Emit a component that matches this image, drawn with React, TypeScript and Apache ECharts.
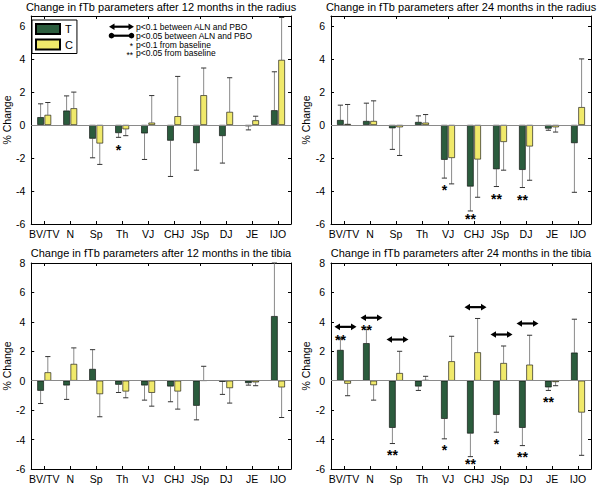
import React, { useEffect, useRef } from 'react';
import * as echarts from 'echarts';

const categories = ['BV/TV', 'N', 'Sp', 'Th', 'VJ', 'CHJ', 'JSp', 'DJ', 'JE', 'IJO'];
const yTicks = [-6, -4, -2, 0, 2, 4, 6, 8];

// 12 months radius
const r12T = [0.47, 0.87, -0.83, -0.49, -0.51, -0.95, -1.1, -0.67, -0.08, 0.89];
const r12TErr = [1.28, 1.76, -1.99, -0.75, -2.09, -3.12, -2.74, -2.31, -0.3, 3.22];
const r12C = [0.61, 1.01, -1.12, -0.26, 0.14, 0.53, 1.8, 0.79, 0.28, 3.94];
const r12CErr = [1.36, 1.99, -2.39, -0.65, 1.78, 2.94, 3.45, 2.86, 0.53, 6.51];

// 24 months radius
const r24T = [0.3, 0.24, -0.2, 0.18, -2.11, -3.73, -2.68, -2.72, -0.22, -1.1];
const r24TErr = [1.2, 1.32, -1.48, 0.55, -3.22, -5.21, -3.73, -3.79, -0.32, -4.08];
const r24C = [0.06, 0.24, -0.14, 0.14, -2.0, -2.09, -1.03, -1.3, -0.14, 1.08];
const r24CErr = [1.24, 1.46, -1.85, 0.63, -3.57, -4.38, -2.74, -3.35, -0.43, 4.0];

// 12 months tibia
const t12T = [-0.68, -0.32, 0.8, -0.27, -0.32, -0.39, -1.7, -0.07, -0.16, 4.39];
const t12TErr = [-1.55, -1.27, 2.11, -0.8, -1.32, -1.43, -2.66, -0.93, -0.3, 8.0];
const t12C = [0.57, 1.14, -0.91, -0.73, -0.82, -0.73, 0.02, -0.5, -0.11, -0.45];
const t12CErr = [1.64, 2.23, -2.45, -1.16, -1.73, -1.93, 0.98, -1.52, -0.34, -2.5];

// 24 months tibia
const t24T = [2.09, 2.55, -3.2, -0.39, -2.59, -3.59, -2.32, -3.2, -0.45, 1.91];
const t24TErr = [2.86, 3.5, -4.27, -0.66, -3.95, -5.16, -3.5, -4.41, -0.66, 4.18];
const t24C = [-0.2, -0.3, 0.52, 0.05, 1.32, 1.93, 1.2, 1.09, -0.09, -2.16];
const t24CErr = [-1.02, -1.32, 2.0, 0.3, 3.02, 4.23, 2.36, 3.09, -0.34, -5.07];

// significance stars: [category index, y value, number of stars]
const r12Stars = [[3, -1.28, 1]];
const r24Stars = [[4, -3.73, 1], [5, -5.5, 2], [6, -4.28, 2], [7, -4.34, 2]];
const t12Stars: number[][] = [];
const t24Stars = [[0, 2.98, 2], [1, 3.66, 2], [2, -4.8, 2], [4, -4.45, 1], [5, -5.45, 2], [6, -4.08, 1], [7, -4.93, 2], [8, -1.23, 2]];

// double arrows (p<0.1 between ALN and PBO): [category index, y value]
const t24Arrows = [[0, 3.66], [1, 4.28], [2, 2.8], [5, 5.0], [6, 3.14], [7, 3.89]];

const panelTitles = [
  'Change in fTb parameters after 12 months in the radius',
  'Change in fTb parameters after 24 months in the radius',
  'Change in fTb parameters after 12 months in the tibia',
  'Change in fTb parameters after 24 months in the tibia',
];
const legendNotes = ['p<0.1 between ALN and PBO', 'p<0.05 between ALN and PBO', 'p<0.1 from baseline', 'p<0.05 from baseline'];

const GREEN = '#2b5c3d';
const YELLOW = '#f0e96b';
const FONT = '"Liberation Sans", Arial, Helvetica, sans-serif';
const BAR_W = 6.6;
const OFF = 3.6;

const panels = [
  { T: r12T, TE: r12TErr, C: r12C, CE: r12CErr, stars: r12Stars, arrows: [] as number[][], ymax: 6.6 },
  { T: r24T, TE: r24TErr, C: r24C, CE: r24CErr, stars: r24Stars, arrows: [] as number[][], ymax: 6.6 },
  { T: t12T, TE: t12TErr, C: t12C, CE: t12CErr, stars: t12Stars, arrows: [] as number[][], ymax: 8 },
  { T: t24T, TE: t24TErr, C: t24C, CE: t24CErr, stars: t24Stars, arrows: t24Arrows, ymax: 8 },
];
const grids = [
  { left: 31, top: 16, width: 260, height: 208 },
  { left: 331, top: 16, width: 260, height: 208 },
  { left: 31, top: 263, width: 260, height: 206 },
  { left: 331, top: 263, width: 260, height: 206 },
];

function arrowShape(cx: number, y: number, half: number, dots: boolean) {
  const children: any[] = [];
  if (dots) {
    children.push({ type: 'line', shape: { x1: cx - half + 2, y1: y, x2: cx + half - 2, y2: y }, style: { stroke: '#000', lineWidth: 2.2 } });
    children.push({ type: 'circle', shape: { cx: cx - half + 2.5, cy: y, r: 2.8 }, style: { fill: '#000' } });
    children.push({ type: 'circle', shape: { cx: cx + half - 2.5, cy: y, r: 2.8 }, style: { fill: '#000' } });
  } else {
    children.push({ type: 'line', shape: { x1: cx - half + 4, y1: y, x2: cx + half - 4, y2: y }, style: { stroke: '#000', lineWidth: 2.2 } });
    children.push({ type: 'polygon', shape: { points: [[cx - half, y], [cx - half + 5.5, y - 3.3], [cx - half + 5.5, y + 3.3]] }, style: { fill: '#000' } });
    children.push({ type: 'polygon', shape: { points: [[cx + half, y], [cx + half - 5.5, y - 3.3], [cx + half - 5.5, y + 3.3]] }, style: { fill: '#000' } });
  }
  return children;
}

export default function App() {
  const ref = useRef<HTMLDivElement>(null);
  useEffect(() => {
    if (!ref.current) return;
    const chart = echarts.init(ref.current, null, { renderer: 'svg' });
    const xAxis: any[] = [];
    const yAxis: any[] = [];
    const series: any[] = [];
    const title: any[] = [];

    panels.forEach((p, i) => {
      const g = grids[i];
      title.push({
        text: panelTitles[i],
        left: g.left + g.width / 2,
        top: i < 2 ? 1 : 247,
        textAlign: 'center',
        padding: 0,
        textStyle: { fontSize: 11, fontWeight: 'normal', color: '#000', fontFamily: FONT },
      });
      xAxis.push({
        type: 'category', gridIndex: i, data: categories, position: 'bottom',
        axisLine: { show: true, onZero: false, lineStyle: { color: '#000', width: 1 } },
        axisTick: { show: true, inside: true, alignWithLabel: true, length: 3, lineStyle: { color: '#000' } },
        axisLabel: { color: '#000', fontSize: 10.5, fontFamily: FONT, margin: 4, interval: 0 },
        splitLine: { show: false },
      });
      xAxis.push({
        type: 'category', gridIndex: i, data: categories, position: 'top',
        axisLine: { show: true, onZero: false, lineStyle: { color: '#000', width: 1 } },
        axisTick: { show: true, inside: true, alignWithLabel: true, length: 3, lineStyle: { color: '#000' } },
        axisLabel: { show: false },
        splitLine: { show: false },
      });
      const fmt = (v: number) => (yTicks.indexOf(v) >= 0 ? String(v) : '');
      yAxis.push({
        type: 'value', gridIndex: i, min: -6, max: p.ymax, interval: 2, position: 'left',
        axisLine: { show: true, onZero: false, lineStyle: { color: '#000', width: 1 } },
        axisTick: { show: true, inside: true, length: 3, lineStyle: { color: '#000' } },
        axisLabel: { color: '#000', fontSize: 10.5, fontFamily: FONT, margin: 6, formatter: fmt },
        splitLine: { show: false },
        name: '% Change', nameLocation: 'middle', nameGap: 17,
        nameTextStyle: { color: '#000', fontSize: 10.5, fontFamily: FONT },
      });
      yAxis.push({
        type: 'value', gridIndex: i, min: -6, max: p.ymax, interval: 2, position: 'right',
        axisLine: { show: true, onZero: false, lineStyle: { color: '#000', width: 1 } },
        axisTick: { show: true, inside: true, length: 3, lineStyle: { color: '#000' } },
        axisLabel: { show: false },
        splitLine: { show: false },
      });
      const xi = i * 2;
      const yi = i * 2;
      series.push({
        type: 'bar', name: 'T', xAxisIndex: xi, yAxisIndex: yi, data: p.T,
        barWidth: BAR_W, barGap: '10%',
        itemStyle: { color: GREEN, borderColor: '#000', borderWidth: 0.6 },
        markLine: {
          silent: true, symbol: 'none', label: { show: false },
          lineStyle: { color: '#8a8a8a', type: 'solid', width: 1 },
          data: [{ yAxis: 0 }],
        },
      });
      series.push({
        type: 'bar', name: 'C', xAxisIndex: xi, yAxisIndex: yi, data: p.C,
        barWidth: BAR_W, barGap: '10%',
        itemStyle: { color: YELLOW, borderColor: '#000', borderWidth: 0.6 },
      });
      const errData: number[][] = [];
      p.T.forEach((v, k) => errData.push([k, v, p.TE[k], -1]));
      p.C.forEach((v, k) => errData.push([k, v, p.CE[k], 1]));
      series.push({
        type: 'custom', xAxisIndex: xi, yAxisIndex: yi, data: errData, silent: true,
        encode: { x: 0, y: [1, 2] },
        renderItem: (params: any, api: any) => {
          const k = api.value(0);
          const p0 = api.coord([k, api.value(1)]);
          const p1 = api.coord([k, api.value(2)]);
          const x = p0[0] + api.value(3) * OFF;
          return {
            type: 'group',
            children: [
              { type: 'line', shape: { x1: x, y1: p0[1], x2: x, y2: p1[1] }, style: { stroke: '#8a8a8a', lineWidth: 1 } },
              { type: 'line', shape: { x1: x - 2.6, y1: p1[1], x2: x + 2.6, y2: p1[1] }, style: { stroke: '#333', lineWidth: 1 } },
            ],
          };
        },
      });
      if (p.stars.length) {
        series.push({
          type: 'custom', xAxisIndex: xi, yAxisIndex: yi, data: p.stars, silent: true,
          encode: { x: 0, y: 1 },
          renderItem: (params: any, api: any) => {
            const k = api.value(0);
            const c = api.coord([k, api.value(1)]);
            return {
              type: 'text',
              x: c[0] - OFF,
              y: c[1] + 3.5,
              style: {
                text: '*'.repeat(api.value(2)),
                fontSize: 14, lineHeight: 7, fontWeight: 'bold', fontFamily: FONT, fill: '#000',
                align: 'center', verticalAlign: 'middle',
              },
            };
          },
        });
      }
      if (p.arrows.length) {
        series.push({
          type: 'custom', xAxisIndex: xi, yAxisIndex: yi, data: p.arrows, silent: true,
          encode: { x: 0, y: 1 },
          renderItem: (params: any, api: any) => {
            const k = api.value(0);
            const c = api.coord([k, api.value(1)]);
            return { type: 'group', children: arrowShape(c[0] + 1.5, c[1], 11, false) };
          },
        });
      }
    });

    const noteX = 136;
    const noteY = [26.7, 35.7, 44.5, 53.3];
    const graphic: any[] = [
      { type: 'group', children: arrowShape(121.5, noteY[0], 12.5, false) },
      { type: 'group', children: arrowShape(121.5, noteY[1], 12.5, true) },
      { type: 'text', x: 133, y: noteY[2] + 1.5, style: { text: '*', fontSize: 8.5, fontFamily: FONT, fill: '#000', align: 'right', verticalAlign: 'middle' } },
      { type: 'text', x: 133, y: noteY[3] + 1.5, style: { text: '**', fontSize: 8.5, fontFamily: FONT, fill: '#000', align: 'right', verticalAlign: 'middle' } },
    ];
    legendNotes.forEach((t, j) => {
      graphic.push({ type: 'text', x: noteX, y: noteY[j], style: { text: t, fontSize: 8.5, fontFamily: FONT, fill: '#000', align: 'left', verticalAlign: 'middle' } });
    });

    chart.setOption({
      animation: false,
      backgroundColor: '#fff',
      title,
      grid: grids.map((g) => ({ ...g, containLabel: false })),
      xAxis,
      yAxis,
      series,
      graphic,
      legend: {
        data: ['T', 'C'],
        left: 32, top: 20, orient: 'vertical', icon: 'rect',
        itemWidth: 24, itemHeight: 10, itemGap: 3.5,
        padding: [3, 4, 3, 3],
        borderColor: '#000', borderWidth: 1, backgroundColor: '#fff',
        selectedMode: false,
        textStyle: { fontSize: 11, fontFamily: FONT, color: '#000', lineHeight: 10 },
      },
    });
    return () => chart.dispose();
  }, []);
  return <div ref={ref} style={{ position: 'absolute', left: 0, top: 0, width: 600, height: 485 }} />;
}
